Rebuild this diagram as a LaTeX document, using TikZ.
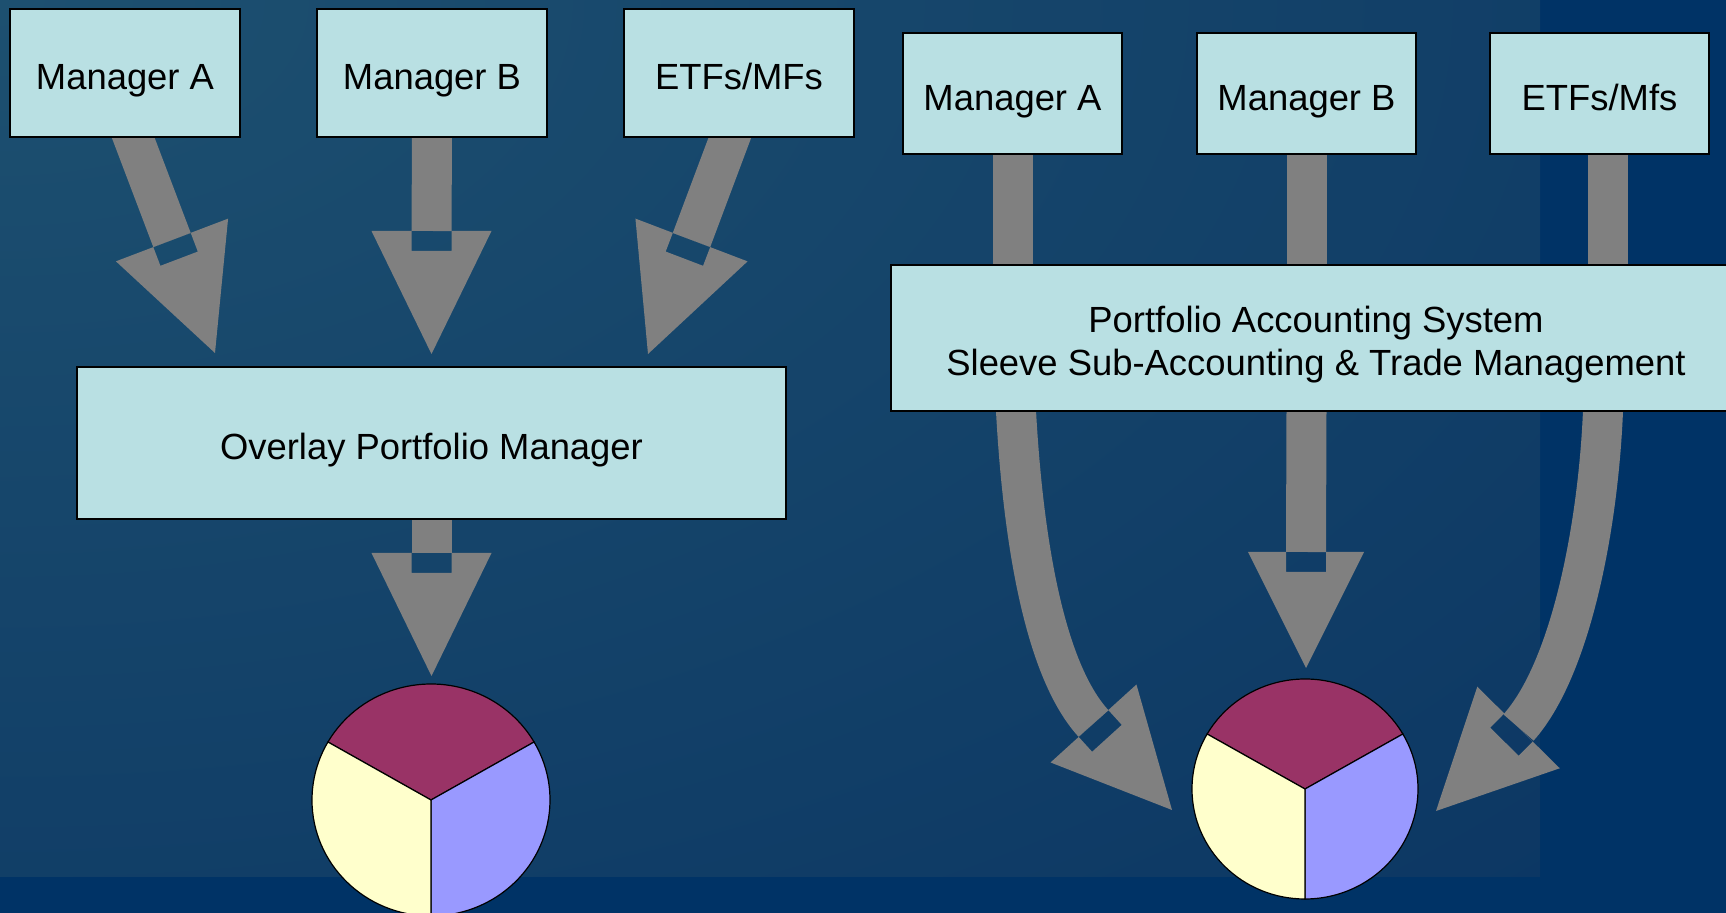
\documentclass[tikz,border=0pt]{standalone}
\usepackage{fontspec}
\setmainfont{Liberation Sans}
\usetikzlibrary{positioning, calc, backgrounds}
\definecolor{boxfill}{HTML}{B9E0E3}
\definecolor{arrowgray}{HTML}{808080}
\definecolor{bgdark}{HTML}{003366}
\definecolor{bgtop}{HTML}{1D5070}
\definecolor{bgbot}{HTML}{0A3462}
\definecolor{pieA}{HTML}{993366}
\definecolor{pieB}{HTML}{FFFFCC}
\definecolor{pieC}{HTML}{9999FF}
\pgfdeclarelayer{arrows}
\pgfsetlayers{background,arrows,main}
\tikzset{
  block/.style  = {draw, fill=boxfill, line width=0.75pt,
                   inner sep=0pt, outer sep=0pt, align=center,
                   minimum width=115pt, minimum height=64pt,
                   text height=17pt, text depth=0pt,
                   font=\fontsize{18.2}{21.5}\selectfont},
  sblock/.style = {block, minimum width=109.5pt, minimum height=60.5pt},
  shaft/.style  = {draw=arrowgray, line width=20pt},
  slice/.style  = {draw=black, line width=0.6pt}
}
% head of a block arrow: base midpoint #2, tip #3, half width #1
\newcommand{\fathead}[3][30pt]{%
  \fill[arrowgray, even odd rule]
    ($(#2)!#1!90:(#3)$) -- (#3) -- ($(#2)!#1!-90:(#3)$) -- cycle
    ($(#2)!10pt!90:(#3)$) -- ($(#2)!10pt!(#3)!10pt!90:(#3)$)
    -- ($(#2)!10pt!(#3)!10pt!-90:(#3)$) -- ($(#2)!10pt!-90:(#3)$) -- cycle;
}
% three slice pie: centre #1, radii #2 and #3
\newcommand{\piechart}[3]{%
  \filldraw[slice, fill=pieA] (#1) -- ++(-150:#2 and #3)
    arc[start angle=-150, end angle=-30, x radius=#2, y radius=#3] -- cycle;
  \filldraw[slice, fill=pieC] (#1) -- ++(-30:#2 and #3)
    arc[start angle=-30, end angle=90, x radius=#2, y radius=#3] -- cycle;
  \filldraw[slice, fill=pieB] (#1) -- ++(90:#2 and #3)
    arc[start angle=90, end angle=210, x radius=#2, y radius=#3] -- cycle;
}

\begin{document}
\begin{tikzpicture}[x=0.5pt, y=-0.5pt]

  \useasboundingbox (0,0) rectangle (1726,913);

  %%──────────────────────────────────────────────────────────────────────
  %%  BACKDROP
  %%──────────────────────────────────────────────────────────────────────
  \begin{scope}[on background layer]
    \fill[bgdark] (0,0) rectangle (1726,913);
    \begin{scope}
      \clip (0,0) rectangle (1540,877);
      \shade[inner color=bgtop, outer color=bgbot]
        (-2464,-1403) rectangle (2464,1403);
    \end{scope}
  \end{scope}

  %%──────────────────────────────────────────────────────────────────────
  %%  OVERLAY SIDE (LEFT)
  %%──────────────────────────────────────────────────────────────────────
  \node[block]                    (mA) at (125,73) {Manager A};
  \node[block, right=38.5pt of mA] (mB)            {Manager B};
  \node[block, right=38.5pt of mB] (mE)            {ETFs/MFs};
  \node[block, minimum width=354.5pt, minimum height=76pt]
                                  (ov) at (431.5,443) {Overlay Portfolio Manager};

  %%──────────────────────────────────────────────────────────────────────
  %%  SLEEVE SIDE (RIGHT)
  %%──────────────────────────────────────────────────────────────────────
  \node[sblock]                    (rA) at (1012.5,93.5) {Manager A};
  \node[sblock, right=37.5pt of rA] (rB)               {Manager B};
  \node[sblock, right=37pt of rB]   (rE)               {ETFs/Mfs};
  \node[block, minimum width=425pt, minimum height=73pt,
        text height=38pt, text depth=0pt]
        (pas) at (1316,338)
        {Portfolio Accounting System\\Sleeve Sub-Accounting \& Trade Management};

  %%──────────────────────────────────────────────────────────────────────
  %%  ARROW POINTS
  %%──────────────────────────────────────────────────────────────────────
  \coordinate (tA)  at (128,124);    \coordinate (bA)  at (172,240);
  \coordinate (pA)  at (215,353);
  \coordinate (bB)  at (431.5,231);  \coordinate (pB)  at (431.5,354);
  \coordinate (tE)  at (735,124);    \coordinate (bE)  at (691.5,240);
  \coordinate (pE)  at (648,354);
  \coordinate (bO)  at (431.5,553);  \coordinate (pO)  at (431.5,676);

  \coordinate (rEs) at ([xshift=4pt]rE.south);
  \coordinate (cL)  at (1016,411);   \coordinate (bL)  at (1093.5,723.5);
  \coordinate (pL)  at (1172,810);
  \coordinate (bM)  at (1306,552);   \coordinate (pM)  at (1306,668);
  \coordinate (cR)  at (1603,411);   \coordinate (bR)  at (1518.5,727.5);
  \coordinate (pR)  at (1436,811);

  %%──────────────────────────────────────────────────────────────────────
  %%  BLOCK ARROWS (behind the boxes)
  %%──────────────────────────────────────────────────────────────────────
  \begin{pgfonlayer}{arrows}
    \draw[shaft] (tA) -- (bA);
    \draw[shaft] (mB.south) -- (bB);
    \draw[shaft] (tE) -- (bE);
    \draw[shaft] (ov.south) -- (bO);
    \fathead{bA}{pA}
    \fathead{bB}{pB}
    \fathead{bE}{pE}
    \fathead{bO}{pO}

    \draw[shaft] (rA.south) -- (rA.south |- pas.north);
    \draw[shaft] (rB.south) -- (rB.south |- pas.north);
    \draw[shaft] (rEs) -- (rEs |- pas.north);

    \draw[shaft] (cL) .. controls (1022,520) and (1040,665) .. (bL);
    \draw[shaft] (rB.south |- pas.south) -- (bM);
    \draw[shaft] (cR) .. controls (1598,530) and (1570,670) .. (bR);
    \fathead[29pt]{bL}{pL}
    \fathead[29pt]{bM}{pM}
    \fathead[29pt]{bR}{pR}
  \end{pgfonlayer}

  %%──────────────────────────────────────────────────────────────────────
  %%  PIES
  %%──────────────────────────────────────────────────────────────────────
  \coordinate (pieL) at (431,800);
  \coordinate (pieR) at (1305,789);
  \piechart{pieL}{119}{116}
  \piechart{pieR}{113}{110}

\end{tikzpicture}
\end{document}
